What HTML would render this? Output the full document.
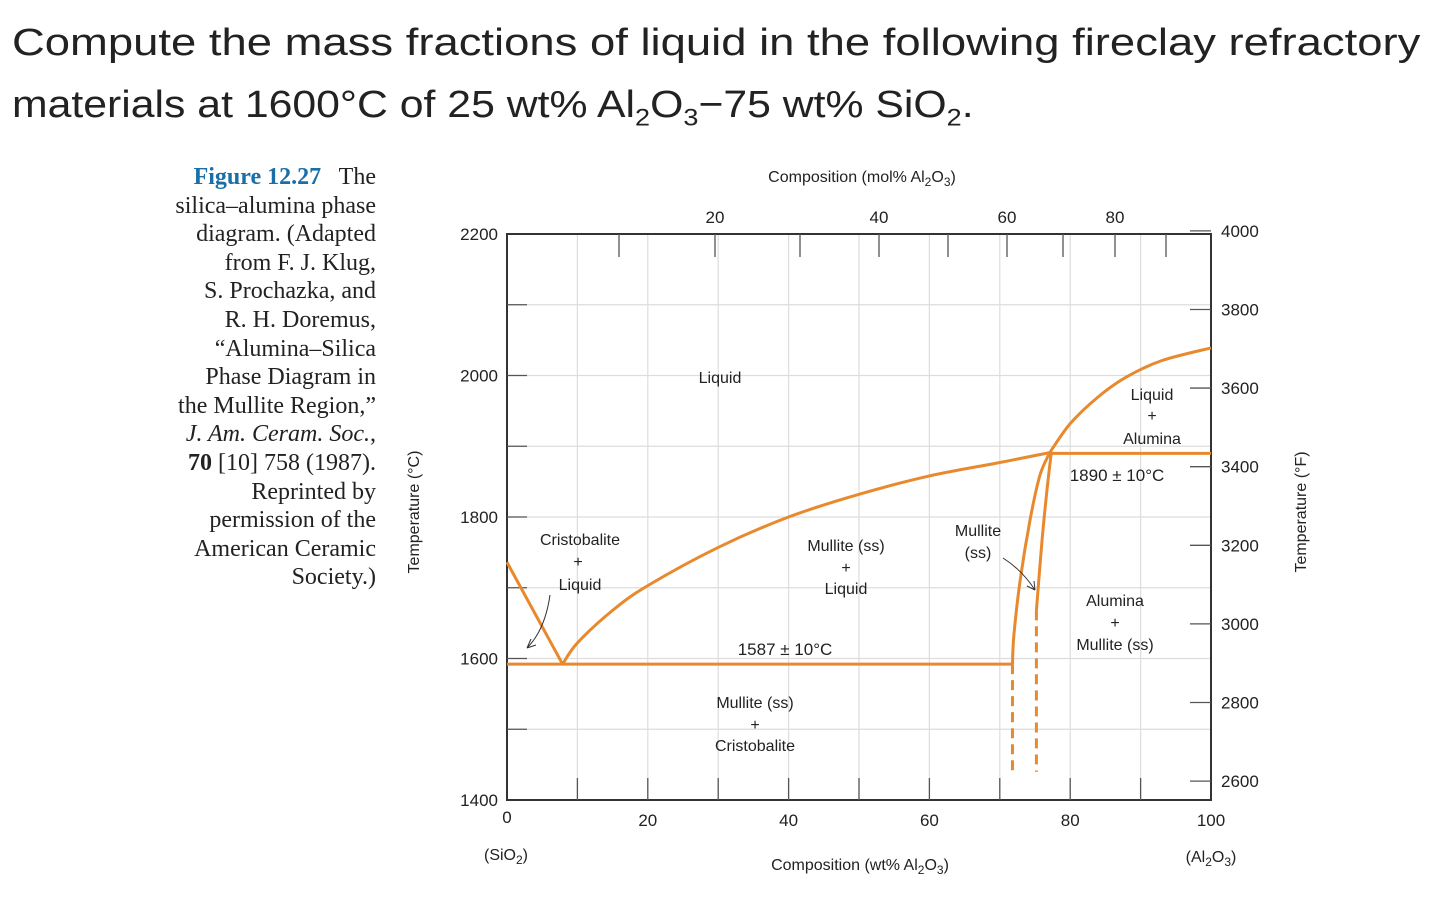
<!DOCTYPE html>
<html><head><meta charset="utf-8"><style>
body{margin:0;background:#fff;width:1443px;height:907px;overflow:hidden;font-family:"Liberation Sans",sans-serif}
.q{position:absolute;left:12px;font-size:38px;color:#222;white-space:nowrap;transform-origin:0 0}
.cap{position:absolute;right:1067px;top:163px;font-family:"Liberation Serif",serif;font-size:24px;line-height:28.6px;text-align:right;color:#222}
</style></head><body>
<div class="q" style="top:22px;transform:scaleX(1.195)">Compute the mass fractions of liquid in the following fireclay refractory</div>
<div class="q" style="top:84px;transform:scaleX(1.125)">materials at 1600°C of 25 wt% Al<sub style="font-size:24px">2</sub>O<sub style="font-size:24px">3</sub>−75 wt% SiO<sub style="font-size:24px">2</sub>.</div>
<div class="cap"><b style="color:#1a6fa8">Figure 12.27</b>&nbsp;&nbsp; The<br>silica–alumina phase<br>diagram. (Adapted<br>from F. J. Klug,<br>S. Prochazka, and<br>R. H. Doremus,<br>“Alumina–Silica<br>Phase Diagram in<br>the Mullite Region,”<br><i>J. Am. Ceram. Soc.</i>,<br><b>70</b> [10] 758 (1987).<br>Reprinted by<br>permission of the<br>American Ceramic<br>Society.)</div>
<svg id="c" width="1443" height="907" style="position:absolute;left:0;top:0"></svg>
<script>
const xTicks=[0,20,40,60,80,100];
const yTicks=[1400,1600,1800,2000,2200];
const fTicks=[2600,2800,3000,3200,3400,3600,3800,4000];
const molTicks=[20,40,60,80];
const molTickX=[619,715,800,879,948,1007,1063,1115,1166];
const crisLiquidus=[[0,1736],[7.9,1592]];
const mulLiquidus=[[7.9,1592],[10,1622],[15,1668],[20,1703],[30,1757],[40,1800],[50,1832],[60,1858],[70,1877],[77.1,1891]];
const eutectic=[[0,1592],[71.8,1592]];
const leftSolvus=[[71.8,1592],[72,1633],[72.9,1711],[74.3,1796],[75.7,1859],[77.1,1891]];
const leftDash=[[71.8,1592],[71.8,1440]];
const rightSolvus=[[75.2,1668],[76,1767],[76.7,1838],[77.3,1890]];
const rightDash=[[75.2,1668],[75.2,1440]];
const aluLiquidus=[[77.1,1891],[80,1932],[84,1970],[88,1998],[93,2021],[100,2039]];
const peritectic=[[77.1,1890],[100,1890]];
const X=w=>507+w*7.04, Y=t=>800-(t-1400)*0.7075, YF=f=>Y((f-32)/1.8);
const svg=document.getElementById('c');
function el(tag,attrs,txt){const e=document.createElementNS('http://www.w3.org/2000/svg',tag);for(const k in attrs)e.setAttribute(k,attrs[k]);if(txt!==undefined)e.innerHTML=txt;svg.appendChild(e);return e;}
for(let w=10;w<100;w+=10){const g=el('line',{x1:X(w),x2:X(w),y1:234,y2:800,stroke:'#ddd','stroke-width':1.2});
}
for(let t=1500;t<2200;t+=100){const g=el('line',{x1:507,x2:1211,y1:Y(t),y2:Y(t),stroke:'#ddd','stroke-width':1.2});
}
const fr=el('rect',{x:507,y:234,width:704,height:566,fill:'none',stroke:'#333','stroke-width':2});

for(let w=10;w<100;w+=10){const t=el('line',{x1:X(w),x2:X(w),y1:800,y2:778,stroke:'#555','stroke-width':1.3});}
for(let t=1500;t<2200;t+=100){const k=el('line',{x1:507,x2:527,y1:Y(t),y2:Y(t),stroke:'#555','stroke-width':1.3});}
molTickX.forEach(x=>{const k=el('line',{x1:x,x2:x,y1:234,y2:257,stroke:'#555','stroke-width':1.3});});
fTicks.forEach(f=>{const k=el('line',{x1:1190,x2:1211,y1:YF(f),y2:YF(f),stroke:'#555','stroke-width':1.3});
const l=el('text',{x:1221,y:YF(f)+6,'font-size':17,fill:'#222'},f);});
xTicks.forEach(w=>{const l=el('text',{x:X(w),y:w==0?823:826,'font-size':17,fill:'#222','text-anchor':'middle'},w);});
yTicks.forEach(t=>{const l=el('text',{x:498,y:Y(t)+6,'font-size':17,fill:'#222','text-anchor':'end'},t);});
const molX=[715,879,1007,1115];
molTicks.forEach((m,i)=>{const l=el('text',{x:molX[i],y:223,'font-size':17,fill:'#222','text-anchor':'middle'},m);});
const C='#e8892e';
function smooth(pts){const p=pts.map(q=>[X(q[0]),Y(q[1])]);let d='M'+p[0][0]+','+p[0][1];
for(let i=0;i<p.length-1;i++){const a=p[Math.max(0,i-1)],b=p[i],c=p[i+1],e=p[Math.min(p.length-1,i+2)];
d+=' C'+(b[0]+(c[0]-a[0])/6)+','+(b[1]+(c[1]-a[1])/6)+' '+(c[0]-(e[0]-b[0])/6)+','+(c[1]-(e[1]-b[1])/6)+' '+c[0]+','+c[1];}return d;}
function poly(pts,name,dash){const p=el('path',{d:smooth(pts),fill:'none',stroke:C,'stroke-width':3,'stroke-linejoin':'round'});if(dash)p.setAttribute('stroke-dasharray','10 6');
}
poly(crisLiquidus,'cristobalite-liquidus');poly(mulLiquidus,'mullite-liquidus');poly(eutectic,'eutectic-line');
poly(leftSolvus,'mullite-left-solvus');poly(leftDash,'mullite-left-solvus-dashed',1);
poly(rightSolvus,'mullite-right-solvus');poly(rightDash,'mullite-right-solvus-dashed',1);
poly(aluLiquidus,'alumina-liquidus');poly(peritectic,'peritectic-line');
const a1=el('path',{d:'M550,595 Q545,630 527,648 M527,648 l4,-9 M527,648 l9,-3',fill:'none',stroke:'#333','stroke-width':1});
const a2=el('path',{d:'M1003,558 Q1022,570 1035,590 M1035,590 l-1,-9 M1035,590 l-8,-4',fill:'none',stroke:'#333','stroke-width':1});
function txt(x,y,s,name,sz){const t=el('text',{x:x,y:y,'font-size':sz||16,fill:'#222','text-anchor':'middle'},s);}
txt(720,383,'Liquid','label-liquid');
txt(580,545,'Cristobalite','label-cristobalite-liquid');txt(578,567,'+','label-plus');txt(580,590,'Liquid','label-cristobalite-liquid-2');
txt(846,551,'Mullite (ss)','label-mullite-liquid');txt(846,573,'+','label-plus');txt(846,594,'Liquid','label-mullite-liquid-2');
txt(978,536,'Mullite','label-mullite-ss');txt(978,558,'(ss)','label-mullite-ss-2');
txt(785,655,'1587 ± 10°C','label-eutectic-temp',17);
txt(755,708,'Mullite (ss)','label-mullite-cristobalite');txt(755,730,'+','label-plus');txt(755,751,'Cristobalite','label-mullite-cristobalite-2');
txt(1152,400,'Liquid','label-liquid-alumina');txt(1152,421,'+','label-plus');txt(1152,444,'Alumina','label-liquid-alumina-2');
txt(1117,481,'1890 ± 10°C','label-peritectic-temp',17);
txt(1115,606,'Alumina','label-alumina-mullite');txt(1115,628,'+','label-plus');txt(1115,650,'Mullite (ss)','label-alumina-mullite-2');
txt(862,182,'Composition (mol% Al<tspan font-size="12" dy="4">2</tspan><tspan dy="-4">O</tspan><tspan font-size="12" dy="4">3</tspan><tspan dy="-4">)</tspan>','x-axis-top-title');
txt(860,870,'Composition (wt% Al<tspan font-size="12" dy="4">2</tspan><tspan dy="-4">O</tspan><tspan font-size="12" dy="4">3</tspan><tspan dy="-4">)</tspan>','x-axis-title');
txt(506,860,'(SiO<tspan font-size="12" dy="4">2</tspan><tspan dy="-4">)</tspan>','sio2-end-label');
txt(1211,862,'(Al<tspan font-size="12" dy="4">2</tspan><tspan dy="-4">O</tspan><tspan font-size="12" dy="4">3</tspan><tspan dy="-4">)</tspan>','al2o3-end-label');
const yl=el('text',{x:0,y:0,'font-size':16,fill:'#222','text-anchor':'middle',transform:'translate(419,512) rotate(-90)'},'Temperature (°C)');
const yr=el('text',{x:0,y:0,'font-size':16,fill:'#222','text-anchor':'middle',transform:'translate(1306,512) rotate(-90)'},'Temperature (°F)');
</script>
</body></html>
